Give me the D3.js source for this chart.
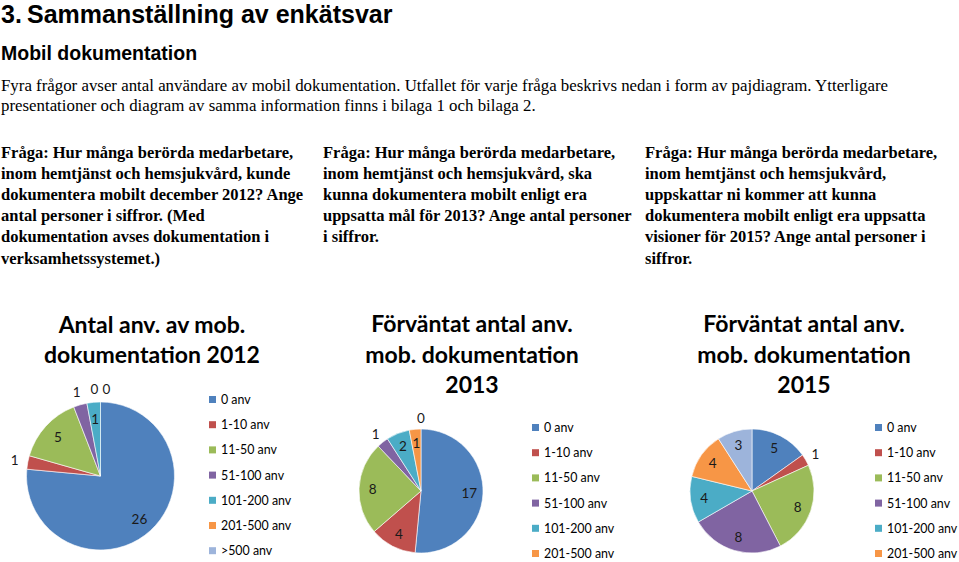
<!DOCTYPE html>
<html><head><meta charset="utf-8">
<script src="https://cdn.jsdelivr.net/npm/d3@7"></script>
<style>
html,body{margin:0;padding:0;background:#fff;}
svg{display:block;}
</style></head>
<body>
<script>
// ---------- data ----------
const categories = ["0 anv","1-10 anv","11-50 anv","51-100 anv","101-200 anv","201-500 anv",">500 anv"];
const values2012 = [26,1,5,1,1,0,0];
const values2013 = [17,4,8,1,2,1,0];
const values2015 = [5,1,8,8,4,4,3];
const chartTitles = [
  ["Antal anv. av mob.","dokumentation 2012"],
  ["Förväntat antal anv.","mob. dokumentation","2013"],
  ["Förväntat antal anv.","mob. dokumentation","2015"]
];
const heading = "Sammanställning av enkätsvar";
const headingNum = "3.";
const subheading = "Mobil dokumentation";
const introLines = [
  "Fyra frågor avser antal användare av mobil dokumentation. Utfallet för varje fråga beskrivs nedan i form av pajdiagram. Ytterligare",
  "presentationer och diagram av samma information finns i bilaga 1 och bilaga 2."
];
const questions = [
  ["Fråga: Hur många berörda medarbetare,","inom hemtjänst och hemsjukvård, kunde","dokumentera mobilt december 2012? Ange","antal personer i siffror. (Med","dokumentation avses dokumentation i","verksamhetssystemet.)"],
  ["Fråga: Hur många berörda medarbetare,","inom hemtjänst och hemsjukvård, ska","kunna dokumentera mobilt enligt era","uppsatta mål för 2013? Ange antal personer","i siffror."],
  ["Fråga: Hur många berörda medarbetare,","inom hemtjänst och hemsjukvård,","uppskattar ni kommer att kunna","dokumentera mobilt enligt era uppsatta","visioner för 2015? Ange antal personer i","siffror."]
];

// ---------- styling / layout ----------
const colors = ["#4F81BD","#C0504D","#9BBB59","#8064A2","#4BACC6","#F79646","#9DB4DB"];
const W = 959, H = 562;
const chartFont = "Lato, 'Open Sans', sans-serif";

const svg = d3.select("body").append("svg").attr("width", W).attr("height", H);

// header
svg.append("text").attr("x",1).attr("y",23)
  .style("font-family","'Liberation Sans', Arial, sans-serif").style("font-weight","bold").style("font-size","25px")
  .text(headingNum);
svg.append("text").attr("x",27).attr("y",23)
  .style("font-family","'Liberation Sans', Arial, sans-serif").style("font-weight","bold").style("font-size","25px")
  .text(heading);
svg.append("text").attr("x",1).attr("y",60)
  .style("font-family","'Liberation Sans', Arial, sans-serif").style("font-weight","bold").style("font-size","19.5px")
  .text(subheading);
svg.append("g").selectAll("text").data(introLines).join("text")
  .attr("x",1).attr("y",(d,i)=>91+i*20)
  .style("font-family","'Liberation Serif', 'Times New Roman', serif").style("font-size","16.85px")
  .text(d=>d);

const qX = [1, 323, 645];
questions.forEach((lines, qi) => {
  svg.append("g").selectAll("text").data(lines).join("text")
    .attr("x", qX[qi]).attr("y", (d,i)=>158 + i*21.1)
    .style("font-family","'Liberation Serif', 'Times New Roman', serif")
    .style("font-weight","bold").style("font-size","16.5px")
    .text(d=>d);
});

// charts
const charts = [
  {values: values2012, titles: chartTitles[0], cx:100.5, cy:476, r:74, tx:152, ty:[333,363], lx:209, ly:399.5, outside:[1,3,5,6]},
  {values: values2013, titles: chartTitles[1], cx:421, cy:491, r:62, tx:472, ty:[332,363,393], lx:532, ly:427.5, outside:[3,6]},
  {values: values2015, titles: chartTitles[2], cx:752, cy:491, r:62, tx:804, ty:[332,363,393], lx:875, ly:427.5, outside:[1]}
];

const color = d3.scaleOrdinal().domain(categories).range(colors);
const pie = d3.pie().sort(null).value(d=>d.value);
const legendStep = 25.2;

charts.forEach(c => {
  const g = svg.append("g");
  // title
  g.selectAll("text.title").data(c.titles).join("text").attr("class","title")
    .attr("x", c.tx).attr("y", (d,i)=>c.ty[i]).attr("text-anchor","middle")
    .style("font-family", chartFont).style("font-weight","bold").style("font-size","23px").style("fill","#000")
    .text(d=>d);

  const data = categories.map((k,i)=>({key:k, value:c.values[i], idx:i}));
  const arcs = pie(data);
  const arc = d3.arc().innerRadius(0).outerRadius(c.r);
  const pg = g.append("g").attr("transform",`translate(${c.cx},${c.cy})`);
  pg.selectAll("path").data(arcs.filter(a=>a.data.value>0)).join("path")
    .attr("d", arc).attr("fill", d=>color(d.data.key))
    .attr("stroke","#fff").attr("stroke-width",0.6);

  // labels
  const inArc = d3.arc().innerRadius(c.r*0.78).outerRadius(c.r*0.78);
  const outArc = d3.arc().innerRadius(c.r*1.18).outerRadius(c.r*1.18);
  const labels = arcs.map(a => {
    const out = c.outside.includes(a.data.idx);
    const p = (out ? outArc : inArc).centroid(a);
    return {x:p[0], y:p[1], out, text: String(a.data.value)};
  });
  // simple collision avoidance for outside labels
  const outs = labels.filter(l=>l.out);
  for (let it=0; it<20; it++) {
    for (let i=0;i<outs.length;i++) for (let j=i+1;j<outs.length;j++) {
      const a=outs[i], b=outs[j];
      const dx=b.x-a.x, dy=b.y-a.y;
      if (Math.abs(dx)<12 && Math.abs(dy)<12) {
        const push=(12-Math.abs(dx))/2, s = dx>=0?1:-1;
        a.x -= push*s; b.x += push*s;
      }
    }
  }
  pg.selectAll("text").data(labels).join("text")
    .attr("x",d=>d.x).attr("y",d=>d.y).attr("text-anchor","middle").attr("dominant-baseline","central")
    .style("font-family", chartFont).style("font-size","13.5px").style("fill","#1a1a1a")
    .text(d=>d.text);

  // legend (entries that fall below the page edge are not visible in the reference)
  const visibleCats = categories.filter((d,i)=> c.ly + i*legendStep < H);
  const lg = g.append("g");
  const items = lg.selectAll("g").data(visibleCats).join("g")
    .attr("transform",(d,i)=>`translate(${c.lx},${c.ly + i*legendStep})`);
  items.append("rect").attr("x",0).attr("y",-3.5).attr("width",7).attr("height",7).attr("fill",d=>color(d));
  items.append("text").attr("x",12).attr("y",0).attr("dominant-baseline","central")
    .style("font-family", chartFont).style("font-size","12.4px").style("fill","#000")
    .text(d=>d);
});
</script>
</body></html>
